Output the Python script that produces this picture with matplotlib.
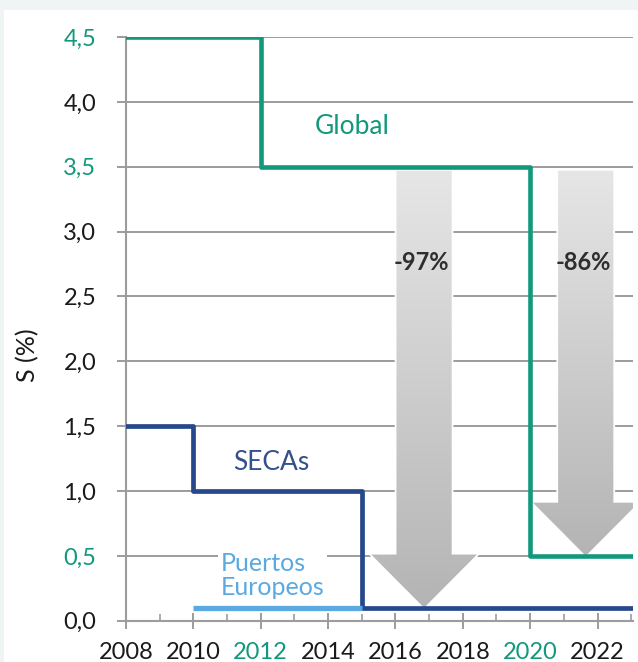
import numpy as np
import matplotlib.pyplot as plt
from matplotlib.patches import Polygon, Rectangle
from matplotlib.colors import LinearSegmentedColormap

plt.rcParams['font.family'] = ['Lato', 'DejaVu Sans']

# limites de azufre (%)
years_global = [2008, 2012, 2020, 2024]
s_global = [4.5, 3.5, 0.5, 0.5]
years_seca = [2008, 2010, 2015, 2024]
s_seca = [1.5, 1.0, 0.1, 0.1]
years_port = [2010, 2015]
s_port = [0.1, 0.1]

# flechas de reduccion
arrow_x = [2016.85, 2021.65]
arrow_from = [3.47, 3.47]
arrow_to = [0.1, 0.5]
arrow_labels = ['-97%', '-86%']

yticks = [0.0, 0.5, 1.0, 1.5, 2.0, 2.5, 3.0, 3.5, 4.0, 4.5]
xticks = [2008, 2010, 2012, 2014, 2016, 2018, 2020, 2022]
teal_y = [0.5, 3.5, 4.5]
teal_x = [2012, 2020]

c_global = '#12987b'
c_seca = '#27498b'
c_port = '#5aa9e0'
c_grid = '#9c9c9c'

fig = plt.figure(figsize=(6.38, 6.62), dpi=100)
fig.patch.set_facecolor('#eef5f4')
fig.patches.append(Rectangle((4 / 638, 0), 1, 1 - 10 / 662, transform=fig.transFigure,
                             facecolor='white', edgecolor='none', zorder=-5))
ax = fig.add_axes([0.1975, 0.0624, 0.7945, 0.8816])
ax.set_facecolor('white')
ax.set_zorder(1)

ax.set_xlim(2008, 2023.05)
ax.set_ylim(0, 4.5)

# rejilla
ax.set_yticks(yticks)
ax.grid(axis='y', color=c_grid, lw=1.4, zorder=1)
ax.set_axisbelow(True)

# flechas con degradado
cmap = LinearSegmentedColormap.from_list('gr', ['#b4b4b4', '#cdcdcd', '#e6e6e6'])
grad = np.linspace(0, 1, 256).reshape(-1, 1)
for xc, y0, y1, lab in zip(arrow_x, arrow_from, arrow_to, arrow_labels):
    sw = 0.82
    hw = 1.57
    hl = 0.41
    pts = [(xc - sw, y0), (xc + sw, y0), (xc + sw, y1 + hl), (xc + hw, y1 + hl),
           (xc, y1), (xc - hw, y1 + hl), (xc - sw, y1 + hl)]
    poly = Polygon(pts, closed=True, facecolor='none', edgecolor='white', lw=2.5, zorder=2)
    ax.add_patch(poly)
    im = ax.imshow(grad, cmap=cmap, origin='lower', aspect='auto',
                   extent=(xc - hw, xc + hw, y1, y0), zorder=2.1)
    im.set_clip_path(poly)
    ax.text(xc - 0.08, 2.76, lab, ha='center', va='center', fontsize=17,
            fontweight='bold', color='#2e2e2e', zorder=5)

ax.plot(years_global, s_global, drawstyle='steps-post', color=c_global, lw=3.3, zorder=4)
ax.plot(years_seca, s_seca, drawstyle='steps-post', color=c_seca, lw=3.4, zorder=4)
ax.plot(years_port, s_port, color=c_port, lw=3.8, zorder=4.5, solid_capstyle='butt')

ax.text(2014.72, 3.81, 'Global', ha='center', va='center', fontsize=19, color=c_global)
ax.text(2012.32, 1.22, 'SECAs', ha='center', va='center', fontsize=19, color='#34508c')
ax.text(2010.82, 0.35, 'Puertos\nEuropeos', ha='left', va='center', fontsize=18,
        color=c_port, linespacing=1.05, zorder=3,
        bbox=dict(facecolor='white', edgecolor='none', pad=2))

# ejes
ax.set_xticks(xticks)
ax.set_xticks(range(2008, 2024), minor=True)
ax.set_yticklabels([f'{v:.1f}'.replace('.', ',') for v in yticks])
ax.set_xticklabels([str(v) for v in xticks])
for sp in ['top', 'right']:
    ax.spines[sp].set_visible(False)
for sp in ['left', 'bottom']:
    ax.spines[sp].set_color(c_grid)
    ax.spines[sp].set_linewidth(1.5)
ax.tick_params(axis='y', direction='out', length=6.5, width=1.4, color=c_grid,
               labelsize=17, pad=15, labelcolor='#1a1a1a')
ax.tick_params(axis='x', which='major', direction='inout', length=12, width=1.4,
               color=c_grid, labelsize=17, pad=9, labelcolor='#1a1a1a')
ax.tick_params(axis='x', which='minor', direction='in', length=5, width=1.2, color=c_grid)
for lbl, v in zip(ax.get_yticklabels(), yticks):
    if v in teal_y:
        lbl.set_color(c_global)
for lbl, v in zip(ax.get_xticklabels(), xticks):
    if v in teal_x:
        lbl.set_color(c_global)

ax.set_ylabel('S (%)', fontsize=18, color='#1a1a1a')
ax.yaxis.set_label_coords(-0.172, 0.455)

fig.savefig('out.png', dpi=100)
